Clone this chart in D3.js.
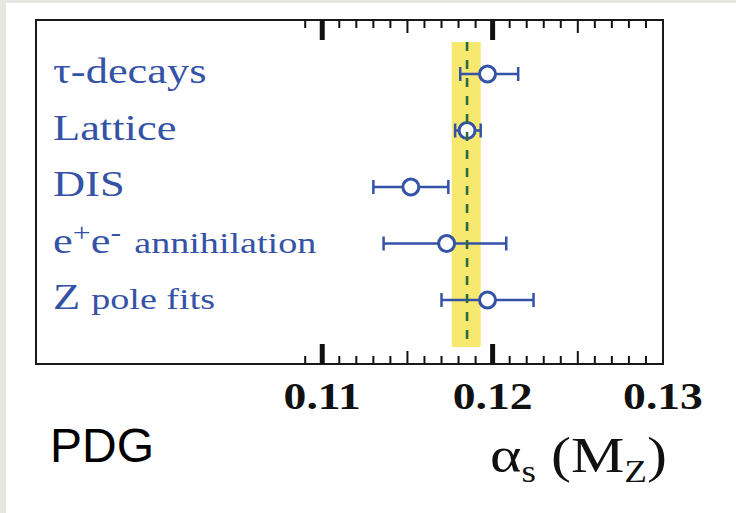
<!DOCTYPE html>
<html>
<head>
<meta charset="utf-8">
<script src="https://cdn.jsdelivr.net/npm/d3@7"></script>
<style>
  html, body { margin: 0; padding: 0; background: #e7e7e1; }
  svg { display: block; }
</style>
</head>
<body>
<div id="chart"></div>
<script>
// alpha_s(M_Z) sub-field averages
const categories = ["tau", "lattice", "dis", "ee", "zpole"];
const centralValues = [0.1197, 0.1185, 0.1152, 0.1173, 0.1197];
const lowerBounds = [0.1181, 0.1178, 0.1130, 0.1136, 0.1170];
const upperBounds = [0.1215, 0.1193, 0.1174, 0.1208, 0.1224];
const worldAverage = 0.1185;
const worldBand = [0.1176, 0.1193];
const tickLabels = [0.11, 0.12, 0.13];

const width = 736, height = 513;
const blue = "#3553a6";

const svg = d3.select("#chart").append("svg")
    .attr("width", width)
    .attr("height", height);

// white panel with thin grey border top/left
svg.append("rect").attr("x", 0).attr("y", 0).attr("width", width).attr("height", height).attr("fill", "#e7e7e1");
svg.append("rect").attr("x", 6).attr("y", 3).attr("width", width - 6).attr("height", height - 3).attr("fill", "#fff");

const box = { left: 36, top: 20, right: 663, bottom: 364 };

const x = d3.scaleLinear()
    .domain([0.0932, 0.13])
    .range([box.left, box.right]);

const y = d3.scalePoint()
    .domain(categories)
    .range([74, 300]);

// yellow band for world average
svg.append("rect")
    .attr("x", x(worldBand[0]))
    .attr("y", 42)
    .attr("width", x(worldBand[1]) - x(worldBand[0]))
    .attr("height", 347 - 42)
    .attr("fill", "#f7e870");

// frame
svg.append("rect")
    .attr("x", box.left).attr("y", box.top)
    .attr("width", box.right - box.left).attr("height", box.bottom - box.top)
    .attr("fill", "none").attr("stroke", "#1a1a1a").attr("stroke-width", 2);

// ticks on top and bottom, every 0.001 from 0.109
const ticks = d3.range(109, 130).map(d => d / 1000);
function tickLen(d) {
    const k = Math.round(d * 1000);
    if (k % 10 === 0) return 20;
    if (k % 5 === 0) return 13;
    return 8;
}
function tickW(d) {
    return Math.round(d * 1000) % 10 === 0 ? 5 : 2;
}
const tickG = svg.append("g");
tickG.selectAll("line.top")
    .data(ticks)
    .enter().append("line")
    .attr("class", "top")
    .attr("x1", d => x(d)).attr("x2", d => x(d))
    .attr("y1", box.top).attr("y2", d => box.top + tickLen(d))
    .attr("stroke", "#111").attr("stroke-width", tickW);
tickG.selectAll("line.bottom")
    .data(ticks)
    .enter().append("line")
    .attr("class", "bottom")
    .attr("x1", d => x(d)).attr("x2", d => x(d))
    .attr("y1", box.bottom).attr("y2", d => box.bottom - tickLen(d))
    .attr("stroke", "#111").attr("stroke-width", tickW);

// tick labels (bold serif, a bit wide)
svg.selectAll("text.tick")
    .data(tickLabels)
    .enter().append("text")
    .attr("class", "tick")
    .attr("transform", d => `translate(${x(d)},409) scale(1.2,1)`)
    .attr("text-anchor", "middle")
    .attr("font-family", "Liberation Serif, serif")
    .attr("font-weight", "bold")
    .attr("font-size", 38)
    .attr("fill", "#111")
    .text(d => d3.format(".2f")(d));

// error bars
const pts = categories.map((c, i) => ({ c, v: centralValues[i], lo: lowerBounds[i], hi: upperBounds[i] }));
const bars = svg.append("g").attr("stroke", blue).attr("stroke-width", 2.5).attr("fill", "none");
bars.selectAll("line.err")
    .data(pts).enter().append("line")
    .attr("x1", d => x(d.lo)).attr("x2", d => x(d.hi))
    .attr("y1", d => y(d.c)).attr("y2", d => y(d.c));
bars.selectAll("line.capl")
    .data(pts).enter().append("line")
    .attr("x1", d => x(d.lo)).attr("x2", d => x(d.lo))
    .attr("y1", d => y(d.c) - 7).attr("y2", d => y(d.c) + 7);
bars.selectAll("line.caph")
    .data(pts).enter().append("line")
    .attr("x1", d => x(d.hi)).attr("x2", d => x(d.hi))
    .attr("y1", d => y(d.c) - 7).attr("y2", d => y(d.c) + 7);

svg.selectAll("circle.pt")
    .data(pts).enter().append("circle")
    .attr("class", "pt")
    .attr("cx", d => x(d.v)).attr("cy", d => y(d.c))
    .attr("r", 8)
    .attr("fill", "#fff")
    .attr("stroke", blue)
    .attr("stroke-width", 3);

// dashed world-average line
svg.append("line")
    .attr("x1", x(worldAverage)).attr("x2", x(worldAverage))
    .attr("y1", 42).attr("y2", 347)
    .attr("stroke", "#2d6a3c")
    .attr("stroke-width", 2.6)
    .attr("stroke-dasharray", "9,9");

// category labels (serif, slightly wide)
const labelG = svg.append("g")
    .attr("font-family", "Liberation Serif, serif")
    .attr("fill", blue);
function label(cat) {
    return labelG.append("text")
        .attr("transform", `translate(53,${y(cat) + 9}) scale(1.27,1)`)
        .attr("font-size", 35);
}
label("tau").text("τ-decays");
label("lattice").text("Lattice");
label("dis").text("DIS");
const ee = label("ee");
ee.append("tspan").text("e");
ee.append("tspan").attr("font-size", 25).attr("dy", -12).text("+");
ee.append("tspan").attr("dy", 12).text("e");
ee.append("tspan").attr("font-size", 25).attr("dy", -12).text("-");
ee.append("tspan").attr("font-size", 30).attr("dy", 12).attr("dx", 3).text(" annihilation");
const zp = label("zpole");
zp.append("tspan").text("Z ");
zp.append("tspan").attr("font-size", 30).text("pole fits");

// axis title
const title = svg.append("text")
    .attr("transform", "translate(490,472) scale(1.2,1)")
    .attr("font-family", "Liberation Serif, serif")
    .attr("font-size", 50)
    .attr("fill", "#111");
title.append("tspan").text("α");
title.append("tspan").attr("font-size", 31).attr("dy", 10).text("s");
title.append("tspan").attr("dy", -10).text(" (M");
title.append("tspan").attr("font-size", 31).attr("dy", 10).text("Z");
title.append("tspan").attr("dy", -10).text(")");

// PDG tag
svg.append("text")
    .attr("x", 50).attr("y", 462)
    .attr("font-family", "Liberation Sans, Arial, sans-serif")
    .attr("font-size", 48)
    .attr("fill", "#000")
    .text("PDG");
</script>
</body>
</html>
